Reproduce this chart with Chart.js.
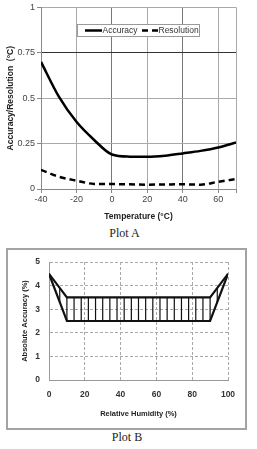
<!DOCTYPE html>
<html>
<head>
<meta charset="utf-8">
<script src="https://cdn.jsdelivr.net/npm/chart.js@4/dist/chart.umd.min.js"></script>
<style>
  html, body { margin: 0; padding: 0; background: #fff; width: 257px; height: 449px; overflow: hidden; }
  #cA { position: absolute; left: 0; top: 0; }
  #cB { position: absolute; left: 0; top: 240px; }
  #boxB { position: absolute; left: 6px; top: 248px; width: 241px; height: 182px; border: 2px solid #a3a3a3; box-sizing: border-box; }
  .cap { position: absolute; font-family: "Liberation Serif", serif; font-size: 12px; line-height: 14px; color: #222; text-align: center; }
</style>
</head>
<body>
<div id="boxB"></div>
<canvas id="cA" width="257" height="225"></canvas>
<canvas id="cB" width="257" height="185"></canvas>
<div class="cap" style="left:0; top:226px; width:249px;">Plot A</div>
<div class="cap" style="left:0; top:430px; width:254px;">Plot B</div>
<script>
// ---------- Plot A data ----------
const tempA = [-40, -30, -20, -10, 0, 10, 20, 30, 40, 50, 60, 70];
const accuracyA = [0.70, 0.51, 0.37, 0.27, 0.19, 0.178, 0.177, 0.183, 0.196, 0.21, 0.229, 0.256];
const resolutionA = [0.105, 0.068, 0.046, 0.028, 0.027, 0.026, 0.024, 0.025, 0.026, 0.024, 0.04, 0.055];
const xTicksA = [-40, -20, 0, 20, 40, 60, 70];
const yTicksA = [0, 0.25, 0.5, 0.75, 1];
const yTickLabelsA = ['0', '0.25', '0.5', '0.75', '1'];
const seriesNamesA = ['Accuracy', 'Resolution'];

// ---------- Plot B data ----------
const humB = [0, 10, 90, 100];
const upperB = [4.5, 3.5, 3.5, 4.5];
const lowerB = [4.5, 2.5, 2.5, 4.5];
const hatchX = [6, 10, 14, 18, 22, 26, 30, 34, 38, 42, 46, 50, 54, 58, 62, 66, 70, 74, 78, 82, 86, 90, 94];
const hatchLow = [3.3, 2.5, 2.5, 2.5, 2.5, 2.5, 2.5, 2.5, 2.5, 2.5, 2.5, 2.5, 2.5, 2.5, 2.5, 2.5, 2.5, 2.5, 2.5, 2.5, 2.5, 2.5, 3.3];
const hatchHigh = [3.9, 3.5, 3.5, 3.5, 3.5, 3.5, 3.5, 3.5, 3.5, 3.5, 3.5, 3.5, 3.5, 3.5, 3.5, 3.5, 3.5, 3.5, 3.5, 3.5, 3.5, 3.5, 3.9];

Chart.defaults.font.family = '"Liberation Sans", Arial, sans-serif';

const pts = (xs, ys) => xs.map((x, i) => ({ x: x, y: ys[i] }));
const fontB = '"Liberation Sans", Arial, sans-serif';

// Custom in-plot legend for Plot A
const legendA = {
  id: 'legendA',
  afterDatasetsDraw(chart) {
    const ctx = chart.ctx;
    const x0 = 77.5, y0 = 24.5, w = 122, h = 12;
    ctx.save();
    ctx.fillStyle = '#fff';
    ctx.fillRect(x0, y0, w, h);
    ctx.strokeStyle = '#9a9a9a';
    ctx.lineWidth = 1;
    ctx.strokeRect(x0, y0, w, h);
    ctx.font = '8.5px "Liberation Sans", Arial, sans-serif';
    ctx.fillStyle = '#333';
    ctx.textBaseline = 'middle';
    const items = [{ sx: 85, ex: 102, tx: 102.5 }, { sx: 142, ex: 158, tx: 158.5 }];
    chart.data.datasets.forEach((ds, i) => {
      const it = items[i];
      ctx.beginPath();
      ctx.lineWidth = ds.borderWidth;
      ctx.strokeStyle = ds.borderColor;
      ctx.setLineDash(ds.borderDash || []);
      ctx.moveTo(it.sx, 30.5);
      ctx.lineTo(it.ex, 30.5);
      ctx.stroke();
      ctx.setLineDash([]);
      ctx.fillText(ds.label, it.tx, 31);
    });
    ctx.restore();
  }
};

new Chart(document.getElementById('cA'), {
  type: 'line',
  data: {
    datasets: [
      { label: seriesNamesA[0], data: pts(tempA, accuracyA), borderColor: '#000', borderWidth: 2.5, pointRadius: 0, cubicInterpolationMode: 'monotone' },
      { label: seriesNamesA[1], data: pts(tempA, resolutionA), borderColor: '#000', borderWidth: 2.5, borderDash: [6, 4], pointRadius: 0, cubicInterpolationMode: 'monotone' }
    ]
  },
  options: {
    responsive: false,
    devicePixelRatio: 1,
    animation: false,
    layout: { padding: { left: 0, right: 21, top: 7, bottom: 0 } },
    plugins: { legend: { display: false }, tooltip: { enabled: false } },
    scales: {
      x: {
        type: 'linear', min: -40, max: 70,
        afterBuildTicks: s => { s.ticks = xTicksA.map(v => ({ value: v })); },
        afterFit: s => { s.height = 36; },
        ticks: { color: '#444', font: { size: 9 }, padding: 1, maxRotation: 0, callback: v => (v === 70 ? '' : String(v)) },
        grid: {
          color: c => (c.tick && (c.tick.value === 0 || c.tick.value === 40) ? '#777' : '#aaa'),
          tickLength: 4, tickColor: '#888'
        },
        border: { color: '#888', width: 1 },
        title: { display: true, text: 'Temperature (°C)', font: { size: 8.5, weight: 'bold' }, color: '#222', padding: { top: 0, bottom: 3 } }
      },
      y: {
        min: 0, max: 1,
        afterBuildTicks: s => { s.ticks = yTicksA.map(v => ({ value: v })); },
        ticks: { color: '#444', font: { size: 9 }, padding: 2, callback: v => yTickLabelsA[yTicksA.indexOf(v)] },
        afterFit: s => { s.width = 41; },
        grid: {
          color: c => (c.tick && c.tick.value === 0.75 ? '#333' : '#aaa'),
          tickLength: 4, tickColor: '#888'
        },
        border: { color: '#888', width: 1 },
        title: { display: true, text: 'Accuracy/Resolution  (°C)', font: { size: 8.5, weight: 'bold' }, color: '#222', padding: { top: 5.5, bottom: 0 } }
      }
    }
  },
  plugins: [legendA]
});

// Plot B
const hatchData = [];
hatchX.forEach((x, i) => {
  hatchData.push({ x: x, y: hatchLow[i] });
  hatchData.push({ x: x, y: hatchHigh[i] });
  hatchData.push({ x: x, y: null });
});

new Chart(document.getElementById('cB'), {
  type: 'line',
  data: {
    datasets: [
      { label: 'Hatch', data: hatchData, borderColor: '#111', borderWidth: 1.2, pointRadius: 0, spanGaps: false, tension: 0 },
      { label: 'Upper', data: pts(humB, upperB), borderColor: '#111', borderWidth: 2.2, pointRadius: 0, tension: 0 },
      { label: 'Lower', data: pts(humB, lowerB), borderColor: '#111', borderWidth: 2.2, pointRadius: 0, tension: 0 }
    ]
  },
  options: {
    responsive: false,
    devicePixelRatio: 1,
    animation: false,
    layout: { padding: { left: 0, right: 29, top: 22, bottom: 0 } },
    plugins: { legend: { display: false }, tooltip: { enabled: false } },
    scales: {
      x: {
        type: 'linear', min: 0, max: 100,
        afterFit: s => { s.height = 45; },
        ticks: { stepSize: 20, color: '#333', font: { family: fontB, size: 8.5, weight: 'bold' }, padding: 10, maxRotation: 0 },
        grid: { color: '#aaa', drawTicks: false },
        border: { color: '#999', width: 1, dash: [3, 2] },
        title: { display: true, text: 'Relative Humidity (%)', font: { family: fontB, size: 7.5, weight: 'bold' }, color: '#222', padding: { top: 0, bottom: 7 } }
      },
      y: {
        min: 0, max: 5,
        afterFit: s => { s.width = 49; },
        ticks: { stepSize: 1, color: '#333', font: { family: fontB, size: 8.5, weight: 'bold' }, padding: 9 },
        grid: { color: '#aaa', drawTicks: false },
        border: { color: '#999', width: 1, dash: [3, 2] },
        title: { display: true, text: 'Absolute Accuracy (%)', font: { family: fontB, size: 7.5, weight: 'bold' }, color: '#222', padding: { top: 20, bottom: 0 } }
      }
    }
  }
});
</script>
</body>
</html>
